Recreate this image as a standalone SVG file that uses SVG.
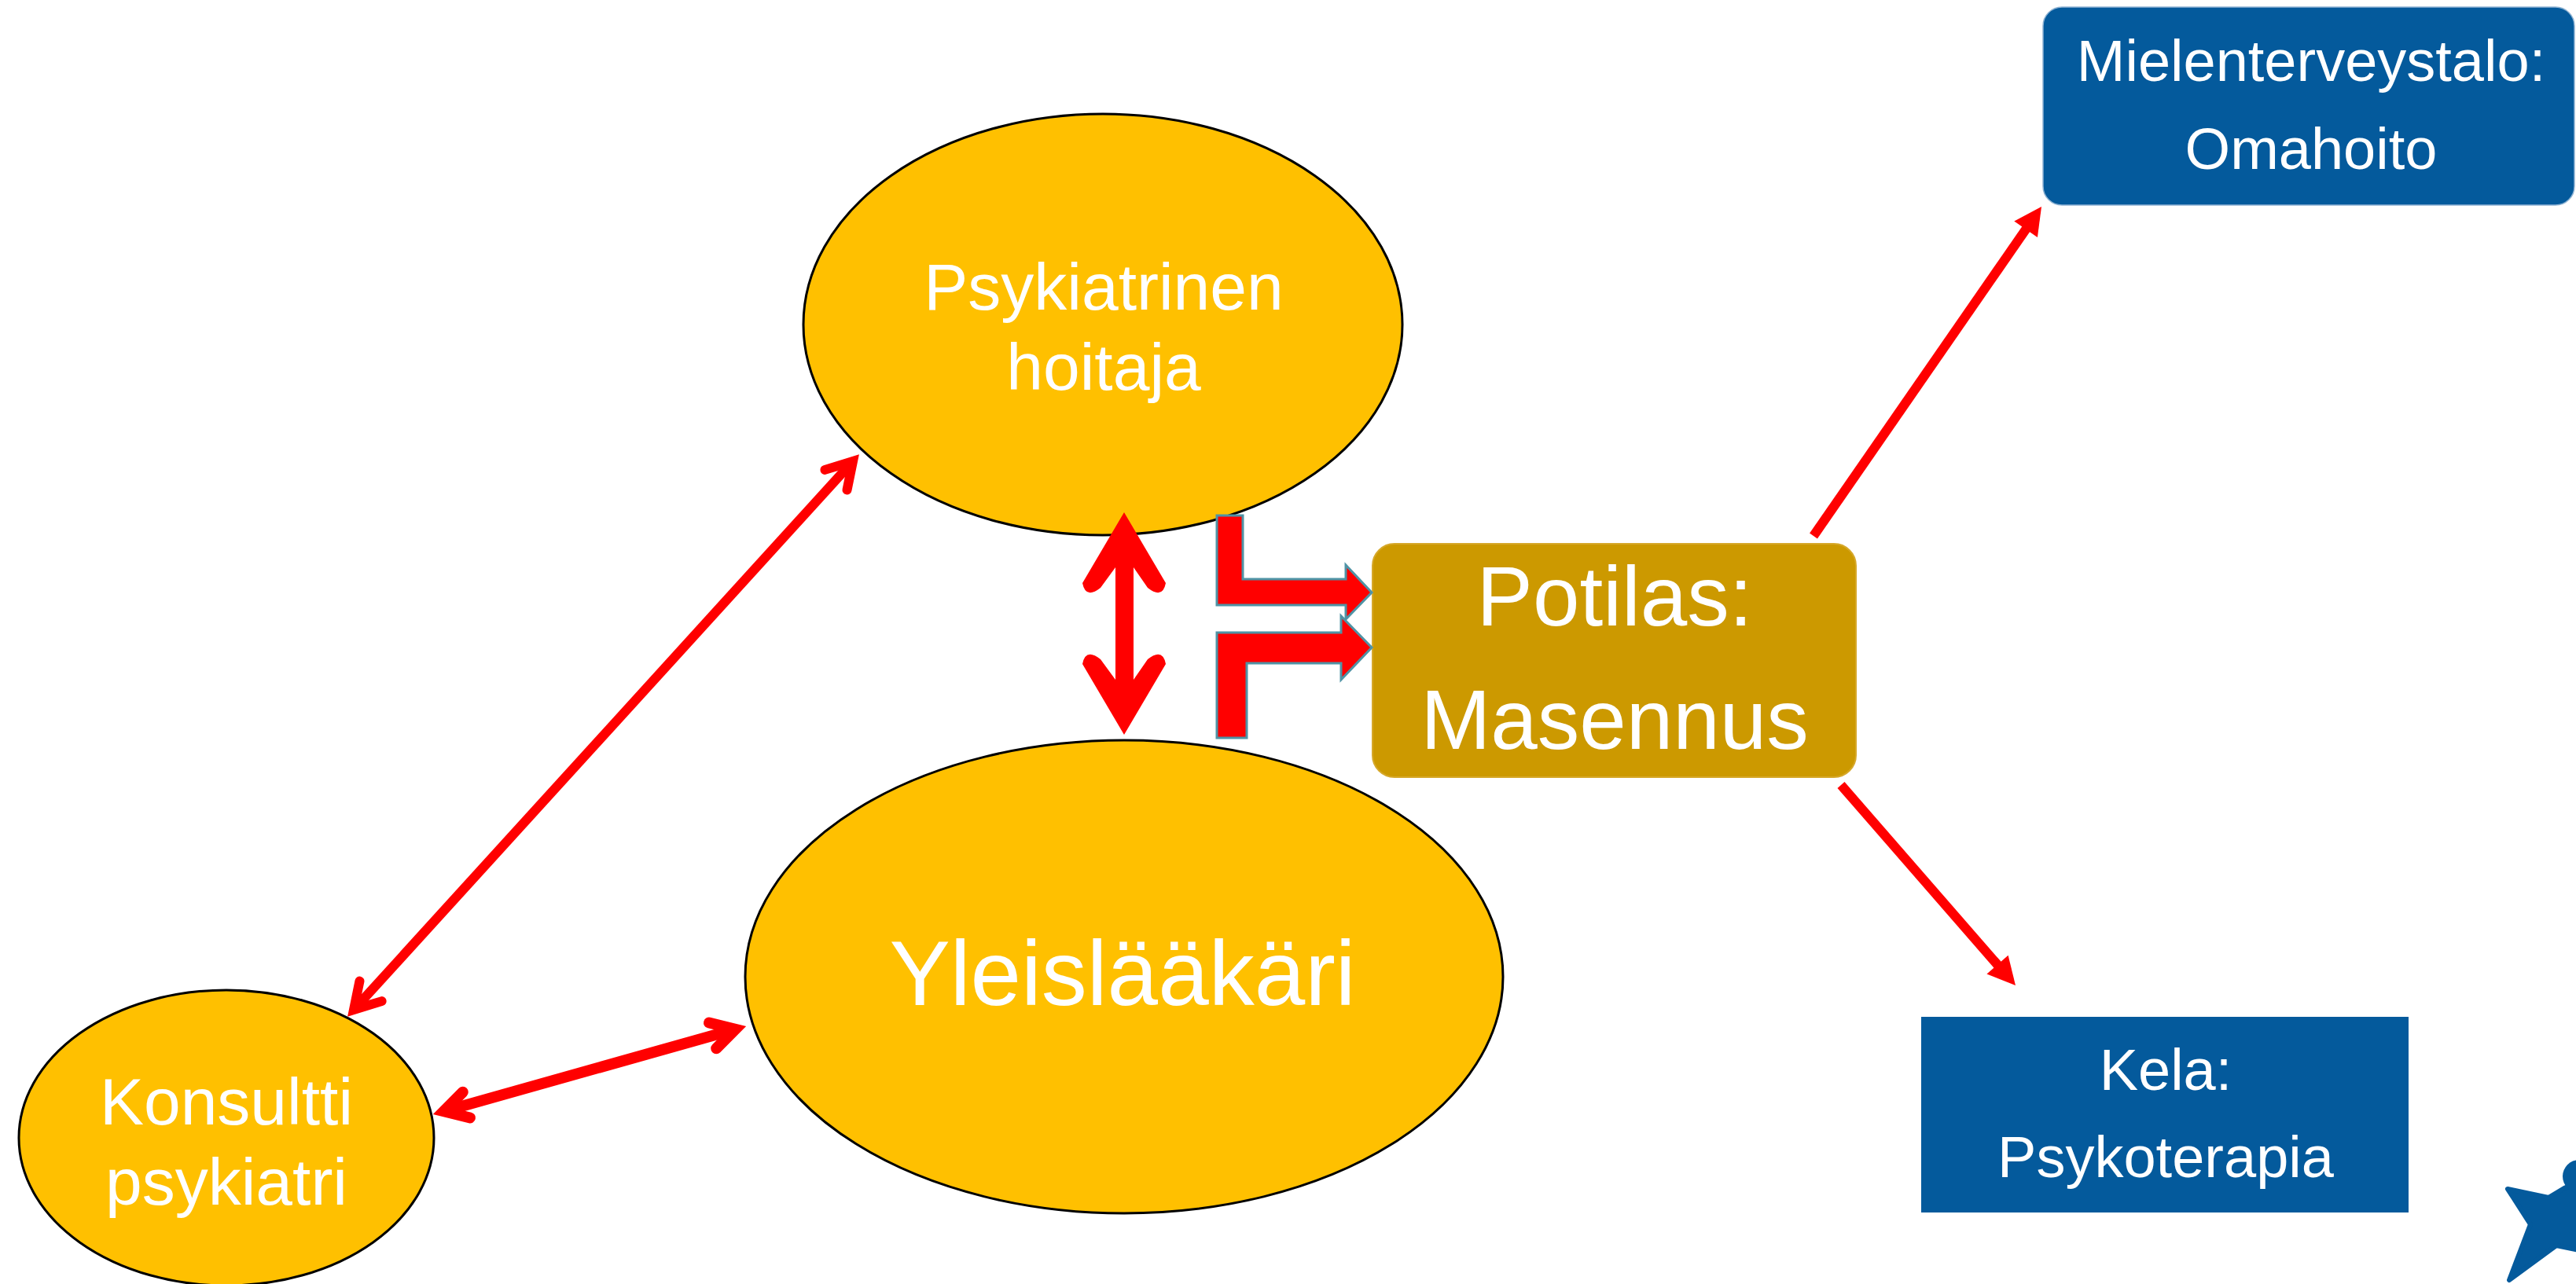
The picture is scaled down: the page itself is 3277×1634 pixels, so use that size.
<svg xmlns="http://www.w3.org/2000/svg" width="3277" height="1634" viewBox="0 0 3277 1634">
<style>
.oval{fill:#FFC000;stroke:#000;stroke-width:3}
.lbl{font-family:"Liberation Sans",Arial,sans-serif;fill:#fff;text-anchor:middle}
.blue{fill:#045A9C}
.red{stroke:#FF0000;fill:none}
.elbow{fill:#FF0000;stroke:#4F93A5;stroke-width:3;stroke-linejoin:miter}
</style>
<defs>
<marker id="openA" markerUnits="userSpaceOnUse" orient="auto-start-reverse" viewBox="-60 -40 80 80" markerWidth="80" markerHeight="80" refX="0" refY="0">
<path d="M-32,-19 L0,0 L-32,19" fill="none" stroke="#FF0000" stroke-width="12" stroke-linecap="round" stroke-linejoin="miter"/>
</marker>
<marker id="openB" markerUnits="userSpaceOnUse" orient="auto-start-reverse" viewBox="-60 -40 80 80" markerWidth="80" markerHeight="80" refX="0" refY="0">
<path d="M-30,-17 L0,0 L-30,17" fill="none" stroke="#FF0000" stroke-width="14" stroke-linecap="round" stroke-linejoin="miter"/>
</marker>
<marker id="tri" markerUnits="userSpaceOnUse" orient="auto" viewBox="-50 -30 80 60" markerWidth="80" markerHeight="60" refX="0" refY="0">
<path d="M25,0 L-10,-18 L-10,18 Z" fill="#FF0000"/>
</marker>
</defs>
<rect width="3277" height="1634" fill="#fff"/>

<g id="node-psykiatrinen-hoitaja">
<ellipse class="oval" cx="1403" cy="413" rx="381" ry="268"/>
<text class="lbl" font-size="84" x="1404" y="394">Psykiatrinen</text>
<text class="lbl" font-size="84" x="1404" y="496">hoitaja</text>
</g>
<g id="node-yleislaakari">
<ellipse class="oval" cx="1430" cy="1243" rx="482" ry="301"/>
<text class="lbl" font-size="116" x="1428" y="1279">Yleislääkäri</text>
</g>
<g id="node-konsultti-psykiatri">
<ellipse class="oval" cx="288" cy="1448" rx="264" ry="188"/>
<text class="lbl" font-size="84" x="288" y="1431">Konsultti</text>
<text class="lbl" font-size="84" x="288" y="1533">psykiatri</text>
</g>
<g id="node-potilas">
<rect x="1746" y="692" width="615" height="297" rx="28" fill="#CC9900" stroke="#D6A82A" stroke-width="2"/>
<text class="lbl" font-size="107" x="2054" y="796">Potilas:</text>
<text class="lbl" font-size="107" x="2054" y="953">Masennus</text>
</g>
<g id="node-mielenterveystalo">
<rect class="blue" x="2599" y="9" width="676" height="252" rx="24" stroke="#8FB3D3" stroke-width="1.5"/>
<text class="lbl" font-size="74" x="2940" y="103">Mielenterveystalo:</text>
<text class="lbl" font-size="74" x="2940" y="215">Omahoito</text>
</g>
<g id="node-kela">
<rect class="blue" x="2444" y="1294" width="620" height="249"/>
<text class="lbl" font-size="74" x="2755" y="1387">Kela:</text>
<text class="lbl" font-size="74" x="2755" y="1498">Psykoterapia</text>
</g>

<g id="connectors">
<line class="red" x1="450" y1="1285" x2="1085" y2="587" stroke-width="12" marker-start="url(#openA)" marker-end="url(#openA)"/>
<line class="red" x1="564.5" y1="1414.2" x2="935.5" y2="1309.8" stroke-width="14" marker-start="url(#openB)" marker-end="url(#openB)"/>
<line class="red" x1="2307" y1="682" x2="2582.8" y2="283.6" stroke-width="12" marker-end="url(#tri)"/>
<line class="red" x1="2342" y1="999" x2="2547.6" y2="1235.2" stroke-width="12" marker-end="url(#tri)"/>
<path id="double-arrow" fill="#FF0000" d="M1430,652 L1377,742 Q1381,763 1400,748 L1419,722 L1419,865 L1400,839 Q1381,824 1377,845 L1430,935 L1483,845 Q1479,824 1460,839 L1442,865 L1442,722 L1460,748 Q1479,763 1483,742 Z"/>
<path id="elbow-upper" class="elbow" d="M1548,656 L1581,656 L1581,737 L1712,737 L1712,719 L1745,754 L1712,788 L1712,770 L1548,770 Z"/>
<path id="elbow-lower" class="elbow" d="M1548,805 L1706,805 L1706,784 L1745,824 L1706,865 L1706,844 L1586,844 L1586,939 L1548,939 Z"/>
</g>

<g id="logo-star">
<polygon points="3190,1513 3242,1524 3262,1512 3290,1500 3290,1593 3252,1585 3192,1629 3219,1558" fill="#045A9C" stroke="#045A9C" stroke-width="6" stroke-linejoin="round"/>
<circle cx="3281" cy="1497" r="21" fill="#045A9C"/>
</g>
</svg>
